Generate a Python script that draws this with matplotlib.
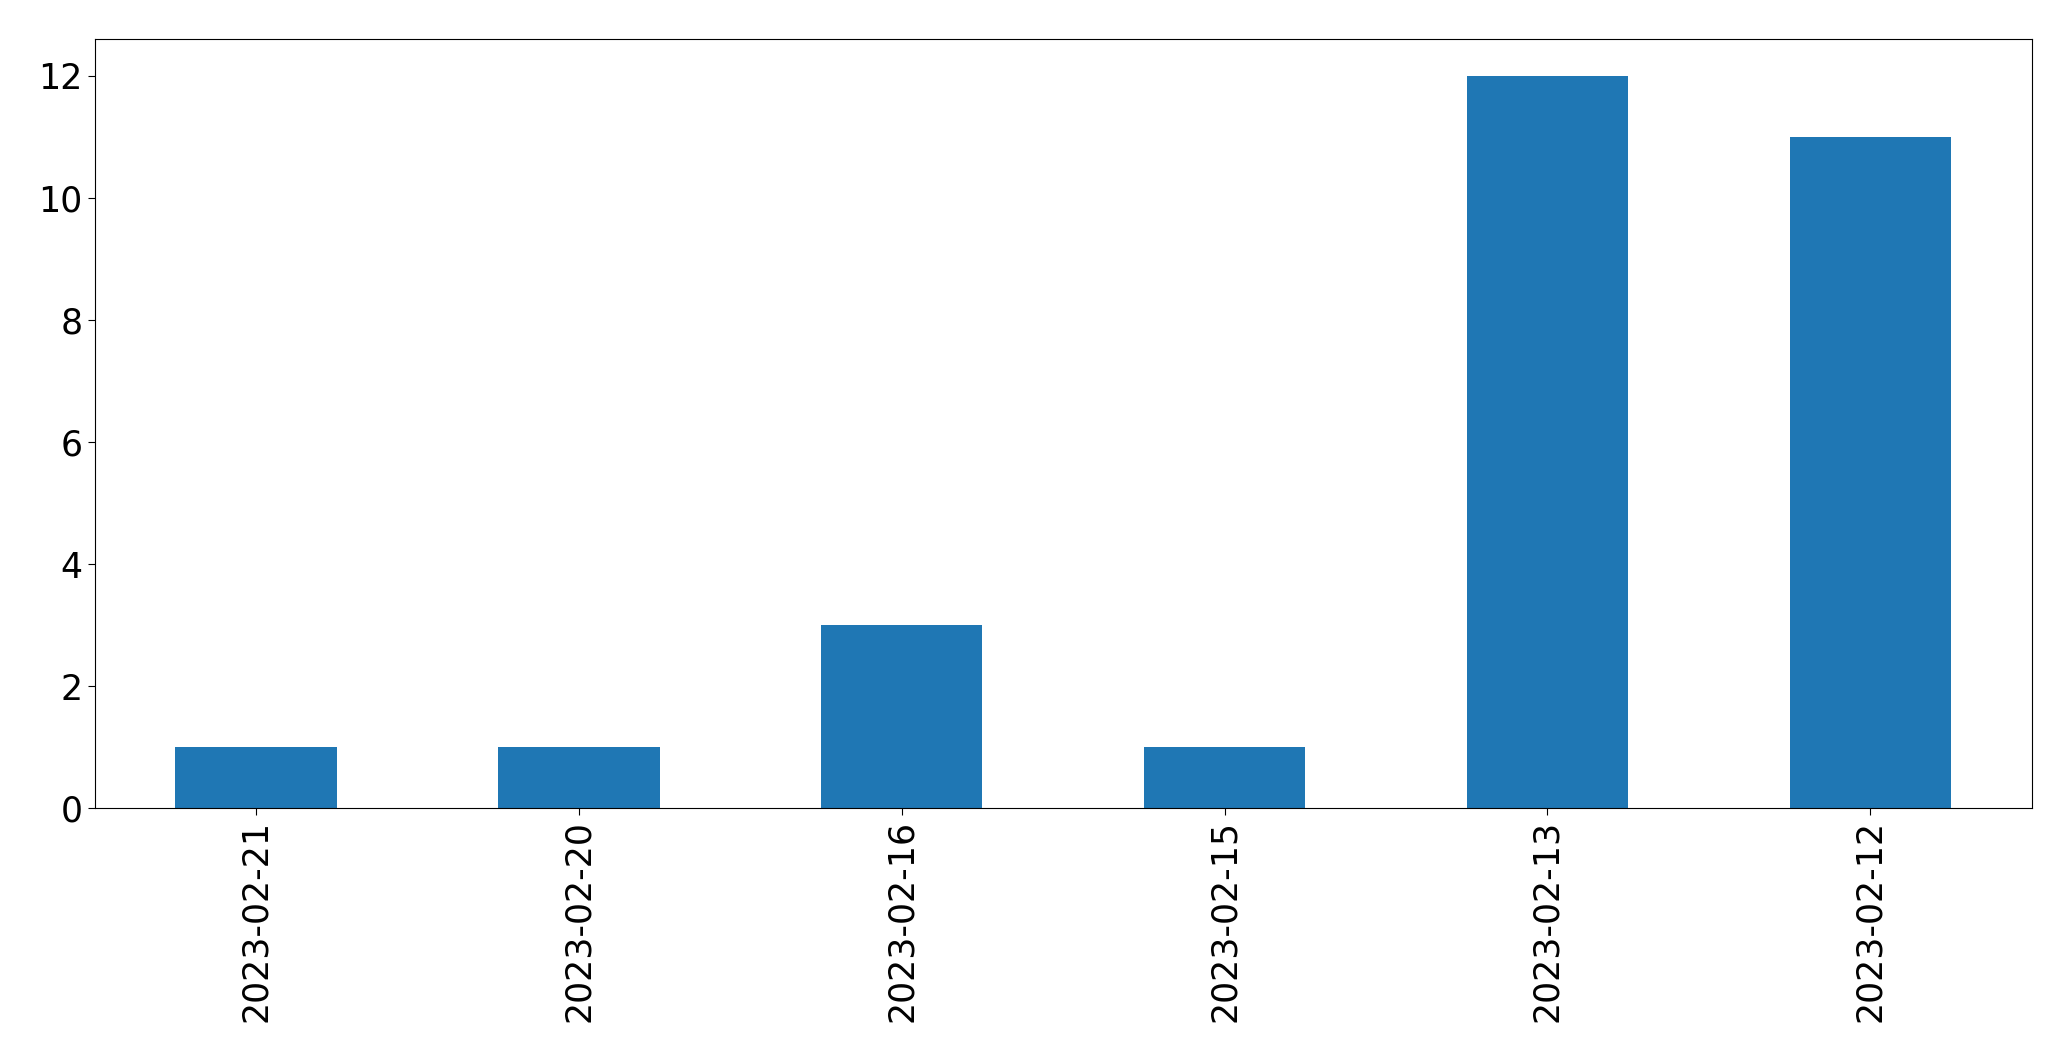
import matplotlib
matplotlib.use("Agg")
import matplotlib.pyplot as plt
import numpy as np

# data
dates = ['2023-02-21', '2023-02-20', '2023-02-16', '2023-02-15', '2023-02-13', '2023-02-12']
counts = [1, 1, 3, 1, 12, 11]

plt.rcParams['font.size'] = 25

fig = plt.figure(figsize=(20.71, 10.61), dpi=100)
ax = fig.add_axes([0.0457, 0.238, 0.981 - 0.0457, 0.963 - 0.238])

pos = np.arange(len(dates))
ax.bar(pos, counts, width=0.5, color='#1f77b4')
ax.set_xlim(-0.5, len(dates) - 0.5)
ax.set_ylim(0, max(counts) * 1.05)
ax.set_xticks(pos)
ax.set_xticklabels(dates, rotation=90)
ax.set_yticks(range(0, 13, 2))
ax.tick_params(length=5)

fig.savefig('out.png', dpi=100)
